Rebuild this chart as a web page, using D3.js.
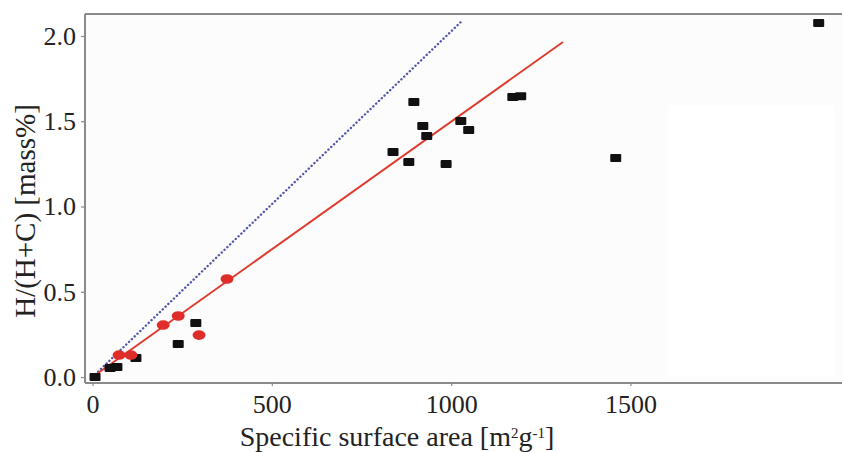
<!DOCTYPE html>
<html>
<head>
<meta charset="utf-8">
<script src="https://cdn.jsdelivr.net/npm/d3@7"></script>
<style>
  html, body { margin: 0; padding: 0; background: #fff; }
  svg { display: block; }
  text { font-family: "Liberation Serif", "Times New Roman", serif; fill: #222; }
</style>
</head>
<body>
<svg id="chart" width="842" height="452"></svg>
<script>
// Porous carbons (black squares)
const carbonArea = [7, 49, 68, 121, 239, 288, 838, 882, 896, 921, 932, 986, 1027, 1049, 1172, 1194, 1459, 2025];
const carbonH    = [0.0, 0.053, 0.059, 0.111, 0.194, 0.317, 1.320, 1.261, 1.613, 1.472, 1.414, 1.249, 1.502, 1.449, 1.642, 1.647, 1.285, 2.076];

// Second sample set (red ellipses)
const redArea = [74, 107, 197, 239, 297, 375];
const redH    = [0.129, 0.129, 0.305, 0.358, 0.246, 0.575];

// Linear fit through the red set, and the dotted reference line
const fitLine = [[0, 0], [1312, 1.965]];
const refLine = [[0, 0], [1033, 2.094]];

const xTicks = [0, 500, 1000, 1500];
const yTicks = [0.0, 0.5, 1.0, 1.5, 2.0];

const svg = d3.select("#chart");

const x = d3.scaleLinear().domain([-21, 2090]).range([85, 842]);
const y = d3.scaleLinear().domain([-0.035, 2.129]).range([383, 14]);

// plot background
svg.append("rect")
  .attr("x", 85).attr("y", 14)
  .attr("width", 842 - 85).attr("height", 383 - 14)
  .attr("fill", "#fcfcfc");
svg.append("rect")
  .attr("x", 668).attr("y", 105)
  .attr("width", 167).attr("height", 272)
  .attr("fill", "#ffffff");

// top frame line
svg.append("line")
  .attr("x1", 85).attr("x2", 842)
  .attr("y1", 14).attr("y2", 14)
  .attr("stroke", "#8a8a8a").attr("stroke-width", 2);

// axes
const xAxis = svg.append("g")
  .attr("transform", "translate(0,383)")
  .call(d3.axisBottom(x).tickValues(xTicks).tickFormat(d3.format("d")).tickSize(3).tickPadding(9));
const yAxis = svg.append("g")
  .attr("transform", "translate(85,0)")
  .call(d3.axisLeft(y).tickValues(yTicks).tickFormat(d3.format(".1f")).tickSize(4).tickPadding(5));

[xAxis, yAxis].forEach(g => {
  g.select(".domain").attr("stroke", "#8a8a8a").attr("stroke-width", 2);
  g.selectAll(".tick line").attr("stroke", "#8a8a8a").attr("stroke-width", 1.2);
  g.selectAll(".tick text")
    .style("font-family", "'Liberation Serif', serif")
    .style("font-size", "26px")
    .attr("fill", "#222");
});
xAxis.select(".domain").attr("d", "M85,0H842");
yAxis.select(".domain").attr("d", "M0,14V383");

// axis titles
const xt = svg.append("text")
  .attr("x", 397).attr("y", 446)
  .attr("text-anchor", "middle")
  .style("font-size", "28px");
xt.append("tspan").text("Specific surface area [m");
xt.append("tspan").attr("baseline-shift", "super").style("font-size", "15px").text("2");
xt.append("tspan").text("g");
xt.append("tspan").attr("baseline-shift", "super").style("font-size", "15px").text("-1");
xt.append("tspan").text("]");

svg.append("text")
  .attr("transform", "translate(35,211) rotate(-90)")
  .attr("text-anchor", "middle")
  .style("font-size", "29px")
  .text("H/(H+C) [mass%]");

// lines
const line = d3.line().x(d => x(d[0])).y(d => y(d[1]));
svg.append("path")
  .attr("d", line(refLine))
  .attr("fill", "none")
  .attr("stroke", "#5356a6")
  .attr("stroke-width", 2.4)
  .attr("stroke-linecap", "round")
  .attr("stroke-dasharray", "0.1,3.8");
svg.append("path")
  .attr("d", line(fitLine))
  .attr("fill", "none")
  .attr("stroke", "#de3b2f")
  .attr("stroke-width", 2);

// markers
const carbons = carbonArea.map((a, i) => ({a, h: carbonH[i]}));
svg.append("g").selectAll("rect")
  .data(carbons)
  .join("rect")
  .attr("x", d => x(d.a) - 5.5)
  .attr("y", d => y(d.h) - 4)
  .attr("width", 11).attr("height", 8)
  .attr("rx", 1)
  .attr("fill", "#111");

const reds = redArea.map((a, i) => ({a, h: redH[i]}));
svg.append("g").selectAll("ellipse")
  .data(reds)
  .join("ellipse")
  .attr("cx", d => x(d.a))
  .attr("cy", d => y(d.h))
  .attr("rx", 6.5).attr("ry", 4.8)
  .attr("fill", "#df2e2a");
</script>
</body>
</html>
